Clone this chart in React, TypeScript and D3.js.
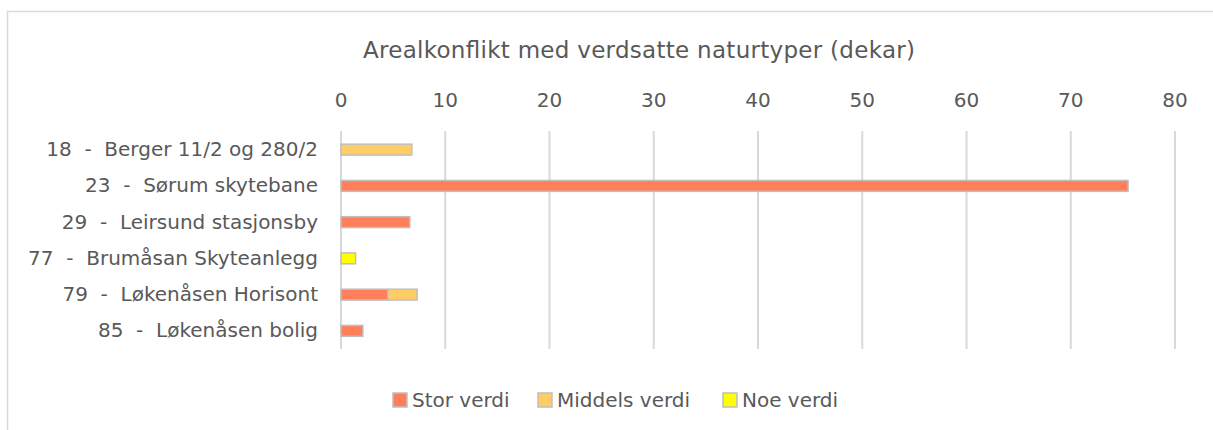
import React from "react";
import * as d3 from "d3";

const categories = [
  "18  -  Berger 11/2 og 280/2",
  "23  -  Sørum skytebane",
  "29  -  Leirsund stasjonsby",
  "77  -  Brumåsan Skyteanlegg",
  "79  -  Løkenåsen Horisont",
  "85  -  Løkenåsen bolig",
];
const storVerdi = [0, 75.5, 6.6, 0, 4.5, 2.1];
const middelsVerdi = [6.8, 0, 0, 0, 2.8, 0];
const noeVerdi = [0, 0, 0, 1.4, 0, 0];
const seriesNames = ["Stor verdi", "Middels verdi", "Noe verdi"];
const seriesColors = ["#FF7F5B", "#FFCC66", "#FFFF00"];
const ticks = [0, 10, 20, 30, 40, 50, 60, 70, 80];
const title = "Arealkonflikt med verdsatte naturtyper (dekar)";

const W = 1213;
const H = 430;
const FONT = "'DejaVu Sans', sans-serif";

export default function App() {
  const x = d3.scaleLinear().domain([0, 80]).range([341, 1175]);
  const y = d3.scaleBand().domain(categories).range([131.5, 349]).paddingInner(0.7).paddingOuter(0.35);
  const table = categories.map((c, i) => ({
    cat: c,
    s0: storVerdi[i],
    s1: middelsVerdi[i],
    s2: noeVerdi[i],
  }));
  const stack = d3.stack<any>().keys(["s0", "s1", "s2"])(table);
  const legendX = [393, 538, 723];

  return (
    <svg width={W} height={H} style={{ position: "absolute", left: 0, top: 0 }} fontFamily={FONT}>
      <rect x={0} y={0} width={W} height={H} fill="#fff" />
      <rect x={7.5} y={11.5} width={W + 20} height={H + 20} fill="#fff" stroke="#d9d9d9" strokeWidth={1.5} />
      <text x={363} y={58} fontSize={23} fill="#595959" textLength={552} lengthAdjust="spacing">{title}</text>
      {ticks.map((t) => (
        <g key={t}>
          <line x1={x(t)} x2={x(t)} y1={131} y2={349} stroke="#d9d9d9" strokeWidth={2} />
          <text x={x(t)} y={107} textAnchor="middle" fontSize={20} fill="#595959">{t}</text>
        </g>
      ))}
      {stack.map((s, si) =>
        s.map((d, i) => {
          const w = x(d[1]) - x(d[0]);
          if (w <= 0) return null;
          const bh = y.bandwidth();
          return (
            <rect
              key={si + "-" + i}
              x={x(d[0])}
              y={(y(categories[i]) as number)}
              width={w}
              height={bh}
              fill={seriesColors[si]}
              stroke="#bfbfbf"
              strokeWidth={1.5}
            />
          );
        })
      )}
      {categories.map((c) => (
        <text
          key={c}
          x={318}
          y={(y(c) as number) + y.bandwidth() / 2 + 6.5}
          textAnchor="end"
          fontSize={20}
          fill="#595959"
          style={{ whiteSpace: "pre" }}
        >
          {c}
        </text>
      ))}
      {seriesNames.map((n, i) => (
        <g key={n}>
          <rect x={legendX[i]} y={393} width={14} height={14} fill={seriesColors[i]} stroke="#bfbfbf" strokeWidth={1.5} />
          <text x={legendX[i] + 19} y={407} fontSize={20} fill="#595959">{n}</text>
        </g>
      ))}
    </svg>
  );
}
